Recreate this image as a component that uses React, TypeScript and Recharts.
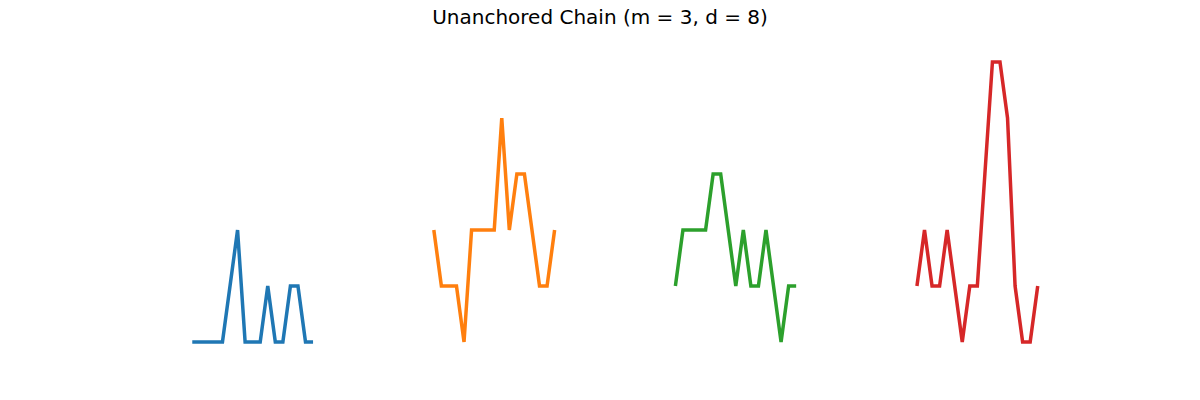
import React from "react";
import { LineChart, Line, XAxis, YAxis } from "recharts";

const blueVals = [0,0,0,0,0,1,2,0,0,0,1,0,0,1,1,0,0];
const orangeVals = [2,1,1,1,0,2,2,2,2,4,2,3,3,2,1,1,2];
const greenVals = [1,2,2,2,2,3,3,2,1,2,1,1,2,1,0,1,1];
const redVals = [1,2,1,1,2,1,0,1,1,3,5,5,4,1,0,0,1];
const colors = ["#1f77b4", "#ff7f0e", "#2ca02c", "#d62728"];
const offsets = [0, 32, 64, 96];

const series = [blueVals, orangeVals, greenVals, redVals].map((vals, k) =>
  vals.map((y, i) => ({ x: i + offsets[k], y }))
);

export default function App() {
  return (
    <div style={{ margin: -8, position: "relative", width: 1200, height: 400 }}>
      <div style={{ position: "absolute", top: 5, width: 1200, textAlign: "center", fontFamily: "DejaVu Sans", fontSize: 20, color: "#000" }}>
        Unanchored Chain (m = 3, d = 8)
      </div>
      <LineChart width={1200} height={400} margin={{ left: 150, right: 120, top: 48, bottom: 44 }}>
        <XAxis type="number" dataKey="x" domain={[-5.6, 117.6]} hide allowDataOverflow />
        <YAxis type="number" dataKey="y" domain={[-0.25, 5.25]} hide allowDataOverflow />
        {series.map((d, k) => (
          <Line key={k} data={d} dataKey="y" type="linear" stroke={colors[k]} strokeWidth={3.5} dot={false} isAnimationActive={false} />
        ))}
      </LineChart>
    </div>
  );
}
